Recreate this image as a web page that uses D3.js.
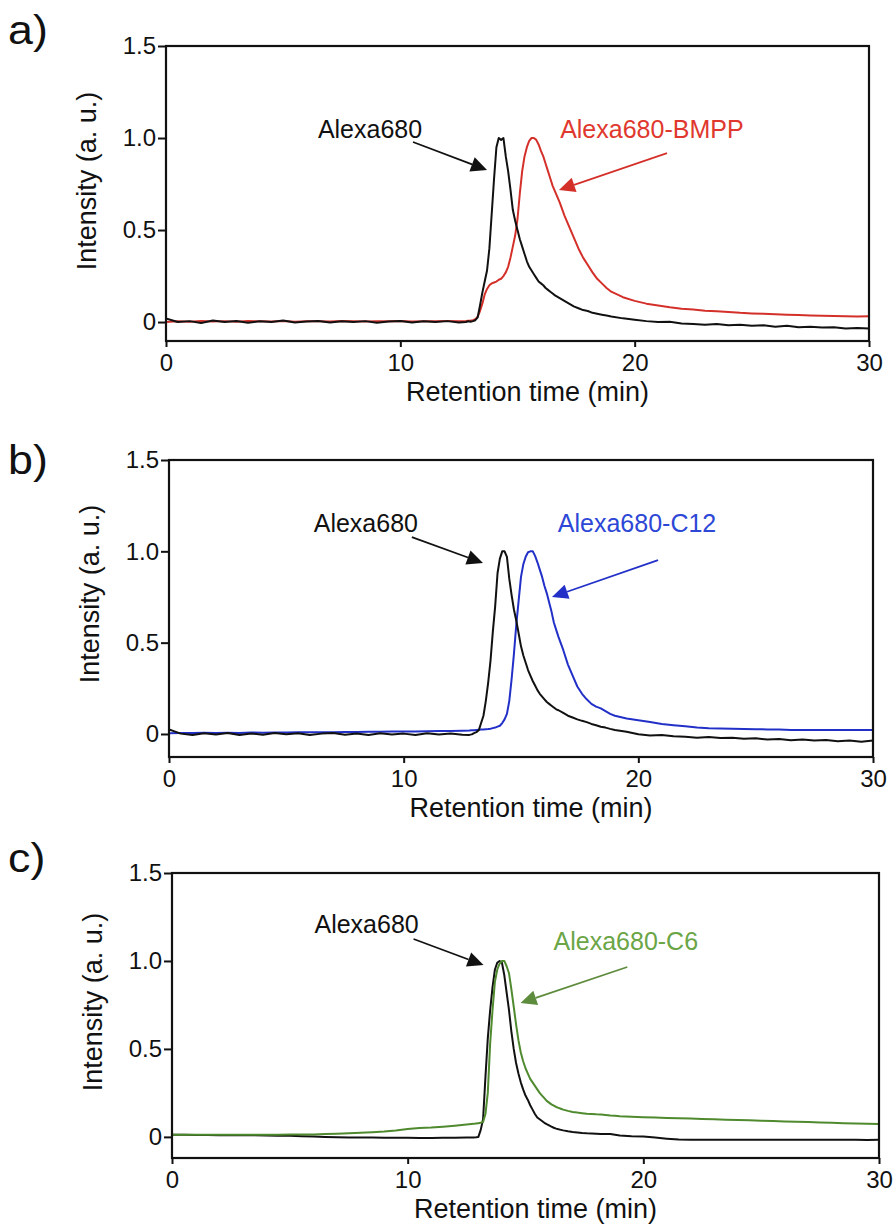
<!DOCTYPE html>
<html><head><meta charset="utf-8">
<script src="https://cdn.jsdelivr.net/npm/d3@7"></script>
<style>
html,body{margin:0;padding:0;background:#fff;}
svg{display:block;font-family:"Liberation Sans",Arial,Helvetica,sans-serif;}
</style></head>
<body>
<svg id="chart" width="896" height="1230"></svg>
<script>
// ---------- DATA ----------
const times = [0,0.5,1,1.5,2,2.5,3,3.5,4,4.5,5,5.5,6,6.5,7,7.5,8,8.5,9,9.5,10,10.5,11,11.5,12,12.5,
 12.8,12.9,13.0,13.1,13.2,13.3,13.4,13.5,13.6,13.7,13.8,13.9,14.0,14.1,14.2,14.3,14.4,14.5,14.6,14.7,14.8,14.9,15.0,15.1,15.2,15.3,15.4,15.5,15.6,15.7,15.8,15.9,16.0,16.1,16.2,16.3,16.4,16.5,16.6,
 16.8,17.0,17.2,17.4,17.6,17.8,18.0,18.2,18.4,18.6,18.8,19.0,
 19.5,20,20.5,21,21.5,22,22.5,23,23.5,24,24.5,25,25.5,26,26.5,27,27.5,28,28.5,29,29.5,30];

// panel a
const alexaA = [0.02,0.0,0.005,-0.005,0.008,0.0,0.006,-0.004,0.004,0.0,0.008,-0.003,0.003,0.006,-0.002,0.004,0.0,0.005,-0.004,0.003,0.006,-0.002,0.004,0.0,0.005,-0.002,
 0.0,0.004,0.002,0.005,0.01,0.025,0.09,0.16,0.22,0.28,0.4,0.59,0.78,0.95,1.0,0.99,1.0,0.9,0.82,0.72,0.61,0.55,0.5,0.45,0.41,0.37,0.33,0.30,0.28,0.26,0.24,0.22,0.21,0.2,0.185,0.175,0.165,0.155,0.145,
 0.13,0.115,0.1,0.085,0.075,0.065,0.06,0.05,0.045,0.04,0.035,0.03,
 0.02,0.012,0.005,0.0,0.002,-0.008,-0.01,-0.015,-0.01,-0.018,-0.015,-0.02,-0.018,-0.025,-0.02,-0.028,-0.025,-0.03,-0.028,-0.035,-0.032,-0.035];
const bmpp = [0.0,0.004,0.002,0.006,0.003,0.005,0.002,0.006,0.004,0.003,0.006,0.002,0.005,0.004,0.003,0.006,0.004,0.003,0.005,0.004,0.006,0.003,0.005,0.004,0.006,0.005,
 0.006,0.007,0.008,0.01,0.015,0.03,0.06,0.1,0.15,0.18,0.2,0.21,0.215,0.22,0.23,0.235,0.25,0.27,0.3,0.35,0.41,0.47,0.56,0.7,0.82,0.9,0.95,0.985,1.0,1.0,0.99,0.965,0.93,0.9,0.86,0.82,0.78,0.74,0.71,
 0.65,0.58,0.52,0.46,0.4,0.35,0.31,0.27,0.235,0.21,0.185,0.165,
 0.135,0.115,0.1,0.09,0.08,0.072,0.068,0.062,0.058,0.055,0.05,0.047,0.045,0.043,0.04,0.038,0.036,0.034,0.033,0.031,0.03,0.032];

// panel b
const alexaB = [0.025,0.002,-0.006,0.004,-0.003,0.005,-0.005,0.003,-0.004,0.006,-0.002,0.004,-0.006,0.002,0.005,-0.004,0.003,-0.005,0.004,-0.003,0.002,-0.006,0.004,-0.003,0.003,-0.004,
 -0.005,-0.002,0.005,0.01,0.02,0.06,0.1,0.18,0.28,0.4,0.56,0.7,0.88,0.96,1.0,1.0,0.97,0.85,0.76,0.68,0.62,0.55,0.48,0.43,0.39,0.35,0.32,0.29,0.265,0.24,0.22,0.205,0.19,0.175,0.165,0.155,0.145,0.135,0.13,
 0.115,0.1,0.09,0.08,0.072,0.065,0.055,0.048,0.04,0.035,0.028,0.022,
 0.012,-0.002,-0.008,-0.005,-0.012,-0.015,-0.02,-0.016,-0.022,-0.02,-0.026,-0.024,-0.03,-0.027,-0.034,-0.03,-0.036,-0.033,-0.04,-0.036,-0.042,-0.035];
const c12 = [0.004,0.006,0.005,0.007,0.006,0.007,0.006,0.008,0.007,0.008,0.008,0.009,0.009,0.01,0.01,0.011,0.011,0.012,0.012,0.013,0.013,0.014,0.015,0.016,0.017,0.018,
 0.019,0.02,0.021,0.022,0.023,0.024,0.025,0.026,0.027,0.029,0.032,0.035,0.04,0.045,0.06,0.08,0.11,0.18,0.3,0.44,0.6,0.73,0.86,0.93,0.97,0.995,1.0,1.0,0.975,0.94,0.9,0.86,0.81,0.77,0.72,0.67,0.61,0.57,0.53,
 0.46,0.38,0.32,0.26,0.22,0.19,0.165,0.15,0.14,0.125,0.11,0.1,
 0.085,0.075,0.065,0.055,0.048,0.042,0.036,0.032,0.03,0.028,0.027,0.026,0.025,0.024,0.022,0.022,0.022,0.022,0.022,0.022,0.022,0.022];

// panel c
const alexaC = [0.012,0.012,0.011,0.011,0.01,0.01,0.01,0.009,0.008,0.007,0.006,0.004,0.002,0.0,-0.002,-0.003,-0.004,-0.004,-0.005,-0.005,-0.005,-0.006,-0.006,-0.005,-0.005,-0.004,
 -0.003,-0.002,0.0,0.04,0.1,0.34,0.56,0.72,0.85,0.95,0.99,1.0,0.99,0.92,0.82,0.72,0.6,0.5,0.42,0.36,0.31,0.27,0.235,0.21,0.18,0.155,0.13,0.11,0.1,0.09,0.08,0.072,0.065,0.058,0.052,0.047,0.043,0.04,0.037,
 0.032,0.028,0.025,0.022,0.02,0.019,0.018,0.017,0.017,0.016,0.012,0.008,
 0.004,0.002,-0.004,-0.01,-0.015,-0.016,-0.016,-0.016,-0.016,-0.016,-0.016,-0.016,-0.016,-0.016,-0.016,-0.016,-0.016,-0.016,-0.016,-0.016,-0.018,-0.016];
const c6 = [0.012,0.012,0.012,0.012,0.012,0.012,0.012,0.012,0.012,0.012,0.013,0.013,0.014,0.016,0.018,0.021,0.024,0.027,0.03,0.036,0.045,0.05,0.053,0.058,0.064,0.07,
 0.074,0.076,0.078,0.08,0.085,0.13,0.25,0.53,0.72,0.88,0.95,0.985,1.0,1.0,0.97,0.93,0.84,0.74,0.64,0.55,0.48,0.43,0.39,0.36,0.33,0.31,0.29,0.27,0.25,0.235,0.22,0.205,0.195,0.185,0.178,0.17,0.165,0.16,0.155,
 0.148,0.142,0.138,0.135,0.132,0.13,0.128,0.127,0.125,0.122,0.12,0.118,
 0.115,0.112,0.11,0.108,0.106,0.104,0.102,0.1,0.098,0.096,0.094,0.092,0.09,0.088,0.086,0.084,0.082,0.08,0.078,0.076,0.075,0.073];

const xTicks = [0, 10, 20, 30];
const yTicks = [0, 0.5, 1.0, 1.5];
const yTickLabels = ["0", "0.5", "1.0", "1.5"];
const panelLabels = ["a)", "b)", "c)"];
const sampleNames = ["Alexa680-BMPP", "Alexa680-C12", "Alexa680-C6"];
const refName = "Alexa680";
const xTitle = "Retention time (min)";
const yTitle = "Intensity (a. u.)";

// ---------- LAYOUT ----------
const COLORS = {
  black: "#111111",
  red: "#d4302a", redText: "#e0382e",
  blue: "#2230c8", blueText: "#2d47d6",
  green: "#4f8a2e", greenText: "#6ba546", greenArrow: "#5e8c3d"
};

const panels = [
  { label: panelLabels[0], labelY: 44, left: 166, right: 869, top: 46, bottom: 341, yMin: -0.103,
    series: [{ v: bmpp, c: COLORS.red }, { v: alexaA, c: COLORS.black }],
    refText: [10.93, 1.0], refArrow: [[10.54, 0.978], [13.70, 0.826]],
    sample: sampleNames[0], sampleColor: COLORS.redText, arrowColor: COLORS.red,
    sampleText: [16.82, 1.0], sampleArrow: [[21.38, 0.918], [16.77, 0.717]] },
  { label: panelLabels[1], labelY: 474, left: 169, right: 873, top: 460, bottom: 757, yMin: -0.126,
    series: [{ v: c12, c: COLORS.blue }, { v: alexaB, c: COLORS.black }],
    refText: [10.61, 1.106], refArrow: [[10.35, 1.078], [13.38, 0.936]],
    sample: sampleNames[1], sampleColor: COLORS.blueText, arrowColor: COLORS.blue,
    sampleText: [16.57, 1.106], sampleArrow: [[20.84, 0.952], [16.32, 0.75]] },
  { label: panelLabels[2], labelY: 872, left: 172, right: 879, top: 873, bottom: 1158, yMin: -0.12,
    series: [{ v: alexaC, c: COLORS.black }, { v: c6, c: COLORS.green }],
    refText: [10.47, 1.159], refArrow: [[10.25, 1.125], [13.22, 0.977]],
    sample: sampleNames[2], sampleColor: COLORS.greenText, arrowColor: COLORS.greenArrow,
    sampleText: [16.19, 1.0625], sampleArrow: [[19.32, 0.966], [14.79, 0.761]] }
];

const svg = d3.select("#chart");

function arrow(g, p0, p1, color) {
  const [x0, y0] = p0, [x1, y1] = p1;
  const ang = Math.atan2(y1 - y0, x1 - x0);
  const L = 16, W = 7.5;
  const bx = x1 - L * Math.cos(ang), by = y1 - L * Math.sin(ang);
  g.append("line").attr("x1", x0).attr("y1", y0).attr("x2", bx).attr("y2", by)
    .attr("stroke", color).attr("stroke-width", 1.7);
  const px = -Math.sin(ang), py = Math.cos(ang);
  g.append("path")
    .attr("d", `M${x1},${y1}L${bx + px * W},${by + py * W}L${bx - px * W},${by - py * W}Z`)
    .attr("fill", color);
}

panels.forEach(p => {
  const x = d3.scaleLinear().domain([0, 30]).range([p.left, p.right]);
  const y = d3.scaleLinear().domain([p.yMin, 1.5]).range([p.bottom, p.top]);
  const g = svg.append("g");

  // panel label (slightly widened like the reference)
  g.append("text").attr("transform", `translate(8,${p.labelY}) scale(1.12,1)`)
    .attr("font-size", 40).attr("fill", "#111").text(p.label);

  // data lines
  const clipId = "clip" + p.label[0];
  g.append("clipPath").attr("id", clipId).append("rect")
    .attr("x", p.left).attr("y", p.top).attr("width", p.right - p.left).attr("height", p.bottom - p.top);
  const line = d3.line().x((d, i) => x(times[i])).y(d => y(d));
  p.series.forEach(s => {
    g.append("path").datum(s.v).attr("d", line)
      .attr("fill", "none").attr("stroke", s.c).attr("stroke-width", 2)
      .attr("stroke-linejoin", "round").attr("clip-path", `url(#${clipId})`);
  });

  // frame
  g.append("rect").attr("x", p.left).attr("y", p.top)
    .attr("width", p.right - p.left).attr("height", p.bottom - p.top)
    .attr("fill", "none").attr("stroke", "#111").attr("stroke-width", 2.2);

  // axes
  const yAx = g.append("g").attr("transform", `translate(${p.left},0)`)
    .call(d3.axisLeft(y).tickValues(yTicks).tickSize(8).tickPadding(2)
      .tickFormat((d, i) => yTickLabels[i]));
  const xAx = g.append("g").attr("transform", `translate(0,${p.bottom})`)
    .call(d3.axisBottom(x).tickValues(xTicks).tickSize(6).tickPadding(7));
  [yAx, xAx].forEach(a => {
    a.select(".domain").remove();
    a.selectAll(".tick line").attr("stroke", "#111").attr("stroke-width", 2);
    a.selectAll(".tick text").attr("font-size", 24).attr("fill", "#111")
      .attr("font-family", '"Liberation Sans",Arial,sans-serif');
  });

  // axis titles
  g.append("text").attr("x", x(15) + 10).attr("y", p.bottom + 60)
    .attr("text-anchor", "middle").attr("font-size", 27).attr("fill", "#111").text(xTitle);
  g.append("text")
    .attr("transform", `translate(${p.left - 70},${y(0.75) - 3}) rotate(-90)`)
    .attr("text-anchor", "middle").attr("font-size", 27).attr("fill", "#111").text(yTitle);

  // annotations
  g.append("text").attr("x", x(p.refText[0])).attr("y", y(p.refText[1]))
    .attr("text-anchor", "end").attr("font-size", 25).attr("fill", "#111").text(refName);
  arrow(g, [x(p.refArrow[0][0]), y(p.refArrow[0][1])], [x(p.refArrow[1][0]), y(p.refArrow[1][1])], "#111");
  g.append("text").attr("x", x(p.sampleText[0])).attr("y", y(p.sampleText[1]))
    .attr("text-anchor", "start").attr("font-size", 25).attr("fill", p.sampleColor).text(p.sample);
  arrow(g, [x(p.sampleArrow[0][0]), y(p.sampleArrow[0][1])], [x(p.sampleArrow[1][0]), y(p.sampleArrow[1][1])], p.arrowColor);
});
</script>
</body></html>
